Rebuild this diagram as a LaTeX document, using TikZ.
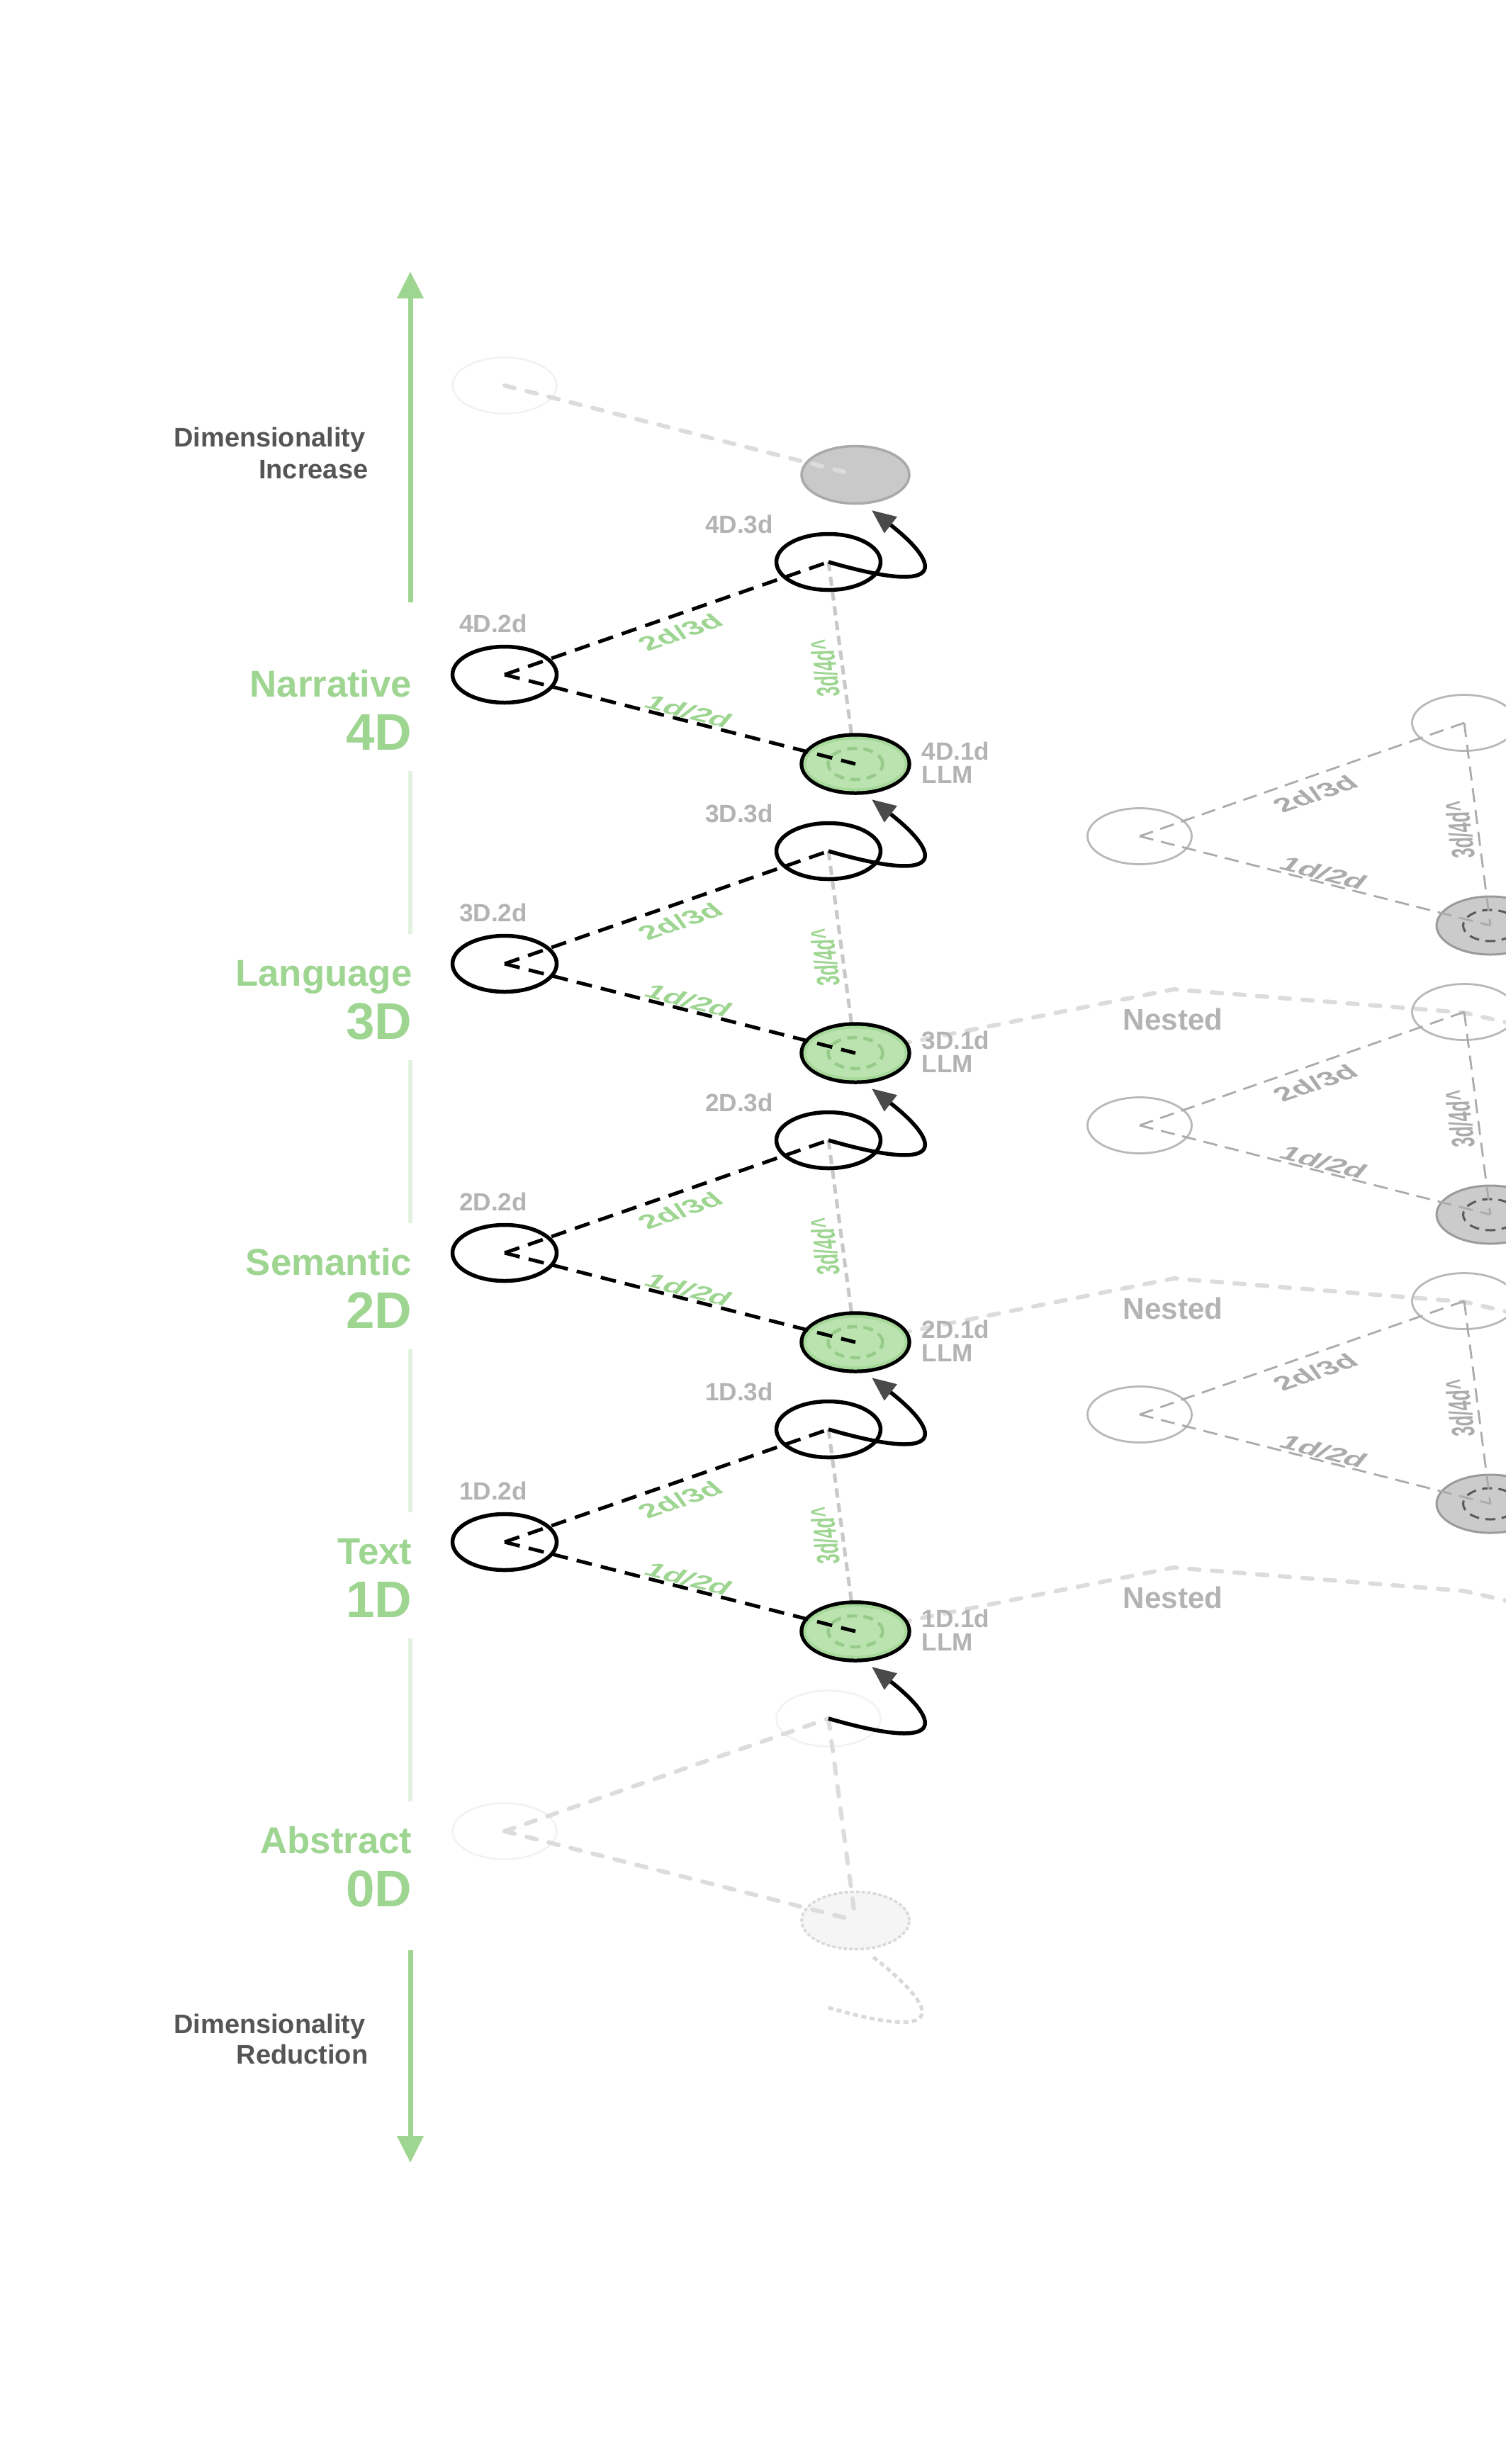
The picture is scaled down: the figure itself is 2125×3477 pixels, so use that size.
\documentclass[tikz,border=0pt]{standalone}
\usepackage{fontspec}
\usepackage{graphicx}
\setmainfont{Liberation Sans}
\usetikzlibrary{shapes.geometric,arrows.meta}
\definecolor{lgreen}{HTML}{9DD591}
\definecolor{gfill}{HTML}{BBE3AF}
\definecolor{gring}{HTML}{A7D99B}
\definecolor{gdash}{HTML}{96CB89}
\definecolor{labgray}{HTML}{B3B3B3}
\definecolor{darktxt}{HTML}{555555}
\definecolor{vgray}{HTML}{C8C8C8}
\definecolor{ghostc}{HTML}{DCDCDC}
\definecolor{ghostfaint}{HTML}{F2F2F2}
\definecolor{nestgray}{HTML}{ABABAB}
\definecolor{nestline}{HTML}{B8B8B8}
\definecolor{nestfill}{HTML}{CBCBCB}
\definecolor{arrowgray}{HTML}{4A4A4A}
\definecolor{axisfaint}{HTML}{E2F2DE}
\definecolor{topfill}{HTML}{C9C9C9}
\definecolor{topedge}{HTML}{A9A9A9}
\definecolor{botfill}{HTML}{F5F5F5}
\definecolor{botedge}{HTML}{D9D9D9}

\newcommand{\labUp}[1]{\scalebox{1.8}[1]{\rotatebox{32}{#1}}}
\newcommand{\labDown}[1]{\scalebox{1.8}[1]{\rotatebox{-24.6}{#1}}}
\newcommand{\labVert}[1]{\scalebox{1.8}[1]{\rotatebox{94}{#1}}}

\tikzset{
  axisline/.style={draw=lgreen, line width=0.7mm, -{Triangle[length=3.8mm,width=3.6mm]}},
  axisfaintline/.style={draw=axisfaint, line width=0.65mm},
  lvlname/.style={anchor=base east, inner sep=0pt, text=lgreen, font=\bfseries\fontsize{15}{18}\selectfont},
  lvldim/.style={anchor=base east, inner sep=0pt, text=lgreen, font=\bfseries\fontsize{20.7}{24}\selectfont},
  dimlab/.style={anchor=base east, inner sep=0pt, text=darktxt, font=\bfseries\fontsize{10.8}{13}\selectfont},
  nodelab/.style={inner sep=0pt, text=labgray, font=\bfseries\fontsize{10}{12}\selectfont},
  nestlab/.style={inner sep=0pt, text=labgray, font=\bfseries\fontsize{12}{14}\selectfont},
  edgelab/.style={inner sep=0pt, text=lgreen, font=\bfseries\fontsize{7.8}{9}\selectfont},
  vedgelab/.style={inner sep=0pt, text=lgreen, font=\bfseries\fontsize{7.2}{9}\selectfont},
  ell/.style={ellipse, inner sep=0pt, minimum width=14.7mm, minimum height=7.9mm},
  e2d/.style={ell, draw=black, line width=0.55mm},
  e1d/.style={ell, draw=black, fill=gfill, line width=0.55mm, minimum width=15.2mm, minimum height=8.2mm},
  e1dring/.style={ell, draw=gring, line width=0.4mm, minimum width=14.3mm, minimum height=7.3mm},
  e1dinner/.style={ell, draw=gdash, line width=0.45mm, dash pattern=on 1.4mm off 0.9mm, minimum width=7.7mm, minimum height=4.4mm},
  blackdash/.style={draw=black, line width=0.5mm, dash pattern=on 2.2mm off 1.3mm},
  vdash/.style={draw=vgray, line width=0.5mm, dash pattern=on 1.3mm off 0.8mm},
  ghostdash/.style={draw=ghostc, line width=0.6mm, line cap=round, dash pattern=on 1.45mm off 1.75mm},
  loopline/.style={draw=black, line width=0.55mm, -{Triangle[length=3.4mm,width=2.8mm,color=arrowgray]}},
  nestdash/.style={draw=nestgray, line width=0.28mm, dash pattern=on 2mm off 1.1mm},
  encirc/.style={ell, draw=nestline, line width=0.28mm},
  engray/.style={ell, draw=nestgray!90!black, fill=nestfill, line width=0.3mm, minimum width=15.2mm, minimum height=8.2mm},
  eninner/.style={ell, draw=black!65, line width=0.3mm, dash pattern=on 1.4mm off 0.9mm, minimum width=7.7mm, minimum height=4.4mm},
}

\begin{document}
\begin{tikzpicture}[x=0.1mm,y=-0.1mm]
\fill[white] (0,0) rectangle (2125,3477);
\useasboundingbox (0,0) rectangle (2125,3477);
\clip (0,0) rectangle (2125,3477);

% ---------- left axis ----------
\coordinate (axTs) at (579,850);
\coordinate (axTe) at (579,383);
\draw[axisline] (axTs) -- (axTe);
\coordinate (axBs) at (579,2752);
\coordinate (axBe) at (579,3052);
\draw[axisline] (axBs) -- (axBe);
\foreach \k in {0,1,2,3}{
  \coordinate (fs\k) at (579,{1088+408*\k});
  \coordinate (fe\k) at (579,{1318+408*\k});
  \draw[axisfaintline] (fs\k) -- (fe\k);
}

\foreach \k/\nm/\dm in {0/Narrative/4D,1/Language/3D,2/Semantic/2D,3/Text/1D,4/Abstract/0D}{
  \node[lvlname] (name\k) at (582,{983+408*\k}) {\nm};
  \node[lvldim] (dim\k) at (582,{1058+408*\k}) {\dm};
}

\node[dimlab] (incA) at (516,630) {Dimensionality};
\node[dimlab] (incB) at (520,675) {Increase};
\node[dimlab] (redA) at (516,2869) {Dimensionality};
\node[dimlab] (redB) at (520,2912) {Reduction};

% ---------- coordinates ----------
\foreach \k in {0,1,2,3}{
  \coordinate (Ac\k) at (712,{952+408*\k});
  \coordinate (Bc\k) at (1169,{793+408*\k});
  \coordinate (Cc\k) at (1207,{1078+408*\k});
  \coordinate (T\k) at (1230,{720+408*\k});
}
\foreach \j in {0,1,2}{
  \coordinate (nap\j) at (1656,{1396+408*\j});
  \coordinate (nbp\j) at (2066,{1429+408*\j});
  \coordinate (nend\j) at (2200,{1460+408*\j});
}

% ---------- top ghost ----------
\node[ell, draw=ghostfaint, line width=0.25mm] (Atop) at (712,544) {};
\node[ell, draw=topedge, fill=topfill, line width=0.35mm, minimum width=15.2mm, minimum height=8.1mm] (Ctop) at (1207,670) {};
\draw[ghostdash] (Atop.center) -- (Ctop.center);

% ---------- nested polylines ----------
\draw[ghostdash] (Cc1) -- (nap0) -- (nbp0) -- (nend0);
\draw[ghostdash] (Cc2) -- (nap1) -- (nbp1) -- (nend1);
\draw[ghostdash] (Cc3) -- (nap2) -- (nbp2) -- (nend2);

% ---------- nested triangles ----------
\foreach \j in {0,1,2}{
  \pgfmathsetmacro{\dy}{408*\j}
  \coordinate (nAc\j) at (1608,{1180+\dy});
  \coordinate (nBc\j) at (2066,{1020+\dy});
  \coordinate (nCc\j) at (2103,{1306+\dy});
  \node[encirc] (nA\j) at (nAc\j) {};
  \node[encirc] (nB\j) at (nBc\j) {};
  \node[engray] (nC\j) at (nCc\j) {};
  \node[eninner] (nCi\j) at (nCc\j) {};
  \draw[nestdash] (nA\j.center) -- (nB\j.center);
  \draw[nestdash] (nA\j.center) -- (nC\j.center);
  \draw[nestdash] (nB\j.center) -- (nC\j.center);
  \node[edgelab,text=nestgray] (neab\j) at (1856,{1120+\dy}) {\labUp{2d/3d}};
  \node[edgelab,text=nestgray] (neac\j) at (1868,{1232+\dy}) {\labDown{1d/2d}};
  \node[vedgelab,text=nestgray] (nebc\j) at (2060,{1171+\dy}) {\labVert{3d/4d\textasciicircum}};
}

% ---------- main levels ----------
\foreach \k/\dm in {0/4D,1/3D,2/2D,3/1D}{
  \pgfmathsetmacro{\dy}{408*\k}
  \draw[vdash] (Bc\k) -- (Cc\k);
  \node[e1d] (C\k) at (Cc\k) {};
  \node[e1dring] (Cr\k) at (Cc\k) {};
  \node[e1dinner] (Ci\k) at (Cc\k) {};
  \node[e2d] (A\k) at (Ac\k) {};
  \node[e2d] (B\k) at (Bc\k) {};
  \draw[blackdash] (A\k.center) -- (B\k.center);
  \draw[blackdash] (A\k.center) -- (C\k.center);
  \draw[loopline] (B\k.center) .. controls +(180,52) and +(90,70) .. (T\k);
  \node[nodelab] (l2\k) at (696,{880+\dy}) {\dm.2d};
  \node[nodelab] (l3\k) at (1043,{740+\dy}) {\dm.3d};
  \node[nodelab,anchor=west] (l1\k) at (1300,{1060+\dy}) {\dm.1d};
  \node[nodelab,anchor=west] (llm\k) at (1300,{1093+\dy}) {LLM};
  \node[edgelab] (eab\k) at (960,{892+\dy}) {\labUp{2d/3d}};
  \node[edgelab] (eac\k) at (972,{1004+\dy}) {\labDown{1d/2d}};
  \node[vedgelab] (ebc\k) at (1164,{943+\dy}) {\labVert{3d/4d\textasciicircum}};
}

% ---------- bottom ghost (0D) ----------
\coordinate (Ac4) at (712,2584);
\coordinate (Bc4) at (1169,2425);
\coordinate (Cc4) at (1207,2710);
\coordinate (T4) at (1230,2352);
\coordinate (Bc5) at (1169,2833);
\coordinate (T5) at (1230,2760);
\node[ell, draw=ghostfaint, line width=0.25mm] (A4) at (Ac4) {};
\node[ell, draw=ghostfaint, line width=0.25mm] (B4) at (Bc4) {};
\node[ell, draw=botedge, fill=botfill, line width=0.35mm, dash pattern=on 0.5mm off 0.3mm, minimum width=15.2mm, minimum height=8.1mm] (C4) at (Cc4) {};
\draw[ghostdash] (A4.center) -- (B4.center);
\draw[ghostdash] (A4.center) -- (C4.center);
\draw[ghostdash] (B4.center) -- (C4.center);
\draw[loopline] (B4.center) .. controls +(180,52) and +(90,70) .. (T4);
\draw[draw=botedge, line width=0.5mm, dash pattern=on 0.7mm off 0.5mm] (Bc5) .. controls +(180,52) and +(90,70) .. (T5);

% ---------- nested labels ----------
\foreach \j in {0,1,2}{
  \node[nestlab] (nlab\j) at (1655,{1438+408*\j}) {Nested};
}
\end{tikzpicture}
\end{document}
